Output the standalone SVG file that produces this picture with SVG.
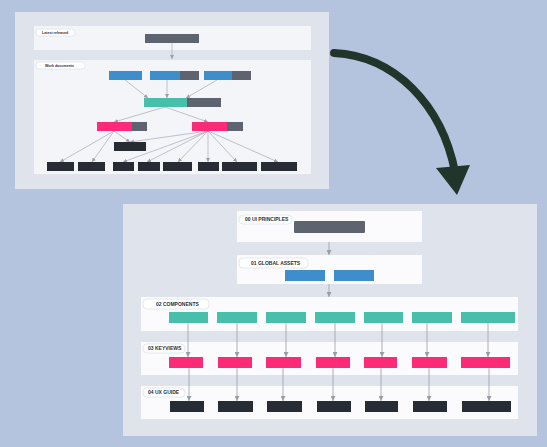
<svg xmlns="http://www.w3.org/2000/svg" width="547" height="447" viewBox="0 0 547 447">
<defs>
<style>
.panel{fill:#dfe3eb}
.sec1{fill:#f4f5f8}
.sec2{fill:#fbfbfd}
.pill{fill:#ffffff;stroke:#dcdfe6;stroke-width:0.7}
.lbl{font-family:"Liberation Sans",Arial,sans-serif;font-weight:bold;fill:#2a2f36}
.s{font-size:3.6px}
.m{font-size:5px}
.gray{fill:#5e6370}
.blue{fill:#3d8ecb}
.teal{fill:#47bfaa}
.pink{fill:#fd2a78}
.dark{fill:#272c34}
.ln{stroke:#9a9ea8;stroke-width:0.6;fill:none;marker-end:url(#ah)}
.ln2{stroke:#9a9ea8;stroke-width:0.8;fill:none;marker-end:url(#ah2)}
</style>
<marker id="ah" viewBox="0 0 6 6" refX="6" refY="3" markerWidth="4" markerHeight="4" orient="auto" markerUnits="userSpaceOnUse"><path d="M0,0 L6,3 L0,6 z" fill="#9a9ea8"/></marker>
<marker id="ah2" viewBox="0 0 6 6" refX="6" refY="3" markerWidth="5" markerHeight="5" orient="auto" markerUnits="userSpaceOnUse"><path d="M0,0 L6,3 L0,6 z" fill="#9a9ea8"/></marker>
</defs>
<rect width="547" height="447" fill="#b4c4de"/>

<!-- Top panel -->
<rect class="panel" x="15" y="12" width="314" height="177"/>
<g id="sec-latest">
<rect class="sec1" x="34" y="26" width="277" height="24"/>
<rect class="pill" x="36" y="29" width="39" height="7" rx="3"/>
<text class="lbl s" x="42" y="33.8">Latest released</text>
</g>
<g id="sec-work">
<rect class="sec1" x="34" y="60" width="277" height="114"/>
<rect class="pill" x="36" y="62" width="49" height="7" rx="3"/>
<text class="lbl s" x="45" y="66.8">Work documents</text>
</g>

<g id="connectors-top">
<line class="ln" x1="172" y1="43" x2="172" y2="59"/>
<line class="ln" x1="125" y1="80" x2="148" y2="98"/>
<line class="ln" x1="167" y1="80" x2="167" y2="98"/>
<line class="ln" x1="217" y1="80" x2="186" y2="98"/>
<line class="ln" x1="165" y1="107" x2="114" y2="122"/>
<line class="ln" x1="165" y1="107" x2="208" y2="122"/>
<line class="ln" x1="114" y1="131" x2="60" y2="162"/>
<line class="ln" x1="114" y1="131" x2="92" y2="162"/>
<line class="ln" x1="114" y1="131" x2="130" y2="142"/>
<line class="ln" x1="208" y1="131" x2="130" y2="142"/>
<line class="ln" x1="208" y1="131" x2="123" y2="162"/>
<line class="ln" x1="208" y1="131" x2="147" y2="162"/>
<line class="ln" x1="208" y1="131" x2="178" y2="162"/>
<line class="ln" x1="208" y1="131" x2="208" y2="162"/>
<line class="ln" x1="208" y1="131" x2="237" y2="162"/>
<line class="ln" x1="208" y1="131" x2="278" y2="162"/>
</g>

<g id="n-latest"><rect class="gray" x="145" y="34" width="54" height="9"/></g>
<g id="n-b1"><rect class="blue" x="109" y="71" width="33" height="9"/></g>
<g id="n-b2"><rect class="blue" x="150" y="71" width="30" height="9"/><rect class="gray" x="180" y="71" width="19" height="9"/></g>
<g id="n-b3"><rect class="blue" x="204" y="71" width="28" height="9"/><rect class="gray" x="232" y="71" width="19" height="9"/></g>
<g id="n-t1"><rect class="teal" x="144" y="98" width="43" height="9"/><rect class="gray" x="187" y="98" width="34" height="9"/></g>
<g id="n-p1"><rect class="pink" x="97" y="122" width="35" height="9"/><rect class="gray" x="132" y="122" width="15" height="9"/></g>
<g id="n-p2"><rect class="pink" x="192" y="122" width="35" height="9"/><rect class="gray" x="227" y="122" width="16" height="9"/></g>
<g id="n-d0"><rect class="dark" x="114" y="142" width="32" height="9"/></g>
<g id="n-d1"><rect class="dark" x="47" y="162" width="27" height="9"/></g>
<g id="n-d2"><rect class="dark" x="78" y="162" width="27" height="9"/></g>
<g id="n-d3"><rect class="dark" x="113" y="162" width="21" height="9"/></g>
<g id="n-d4"><rect class="dark" x="138" y="162" width="22" height="9"/></g>
<g id="n-d5"><rect class="dark" x="163" y="162" width="29" height="9"/></g>
<g id="n-d6"><rect class="dark" x="198" y="162" width="21" height="9"/></g>
<g id="n-d7"><rect class="dark" x="222" y="162" width="35" height="9"/></g>
<g id="n-d8"><rect class="dark" x="261" y="162" width="36" height="9"/></g>

<!-- Big arrow -->
<g id="big-arrow">
<path d="M334,53 C395,56 442,105 455,172" fill="none" stroke="#21352b" stroke-width="8" stroke-linecap="round"/>
<path d="M436,168 L470,165 L457,195 z" fill="#21352b"/>
</g>

<!-- Bottom panel -->
<rect class="panel" x="123" y="204" width="414" height="232"/>
<g id="sec-00">
<rect class="sec2" x="237" y="211" width="185" height="31"/>
<rect class="pill" x="239" y="215" width="53" height="9" rx="4"/>
<text class="lbl m" x="245" y="221.3">00 UI PRINCIPLES</text>
</g>
<g id="sec-01">
<rect class="sec2" x="237" y="255" width="185" height="29"/>
<rect class="pill" x="239" y="258" width="69" height="10" rx="4"/>
<text class="lbl m" x="251" y="264.8">01 GLOBAL ASSETS</text>
</g>
<g id="sec-02">
<rect class="sec2" x="141" y="297" width="377" height="34"/>
<rect class="pill" x="143" y="299" width="66" height="10" rx="4"/>
<text class="lbl m" x="156" y="305.8">02 COMPONENTS</text>
</g>
<g id="sec-03">
<rect class="sec2" x="141" y="342" width="377" height="33"/>
<rect class="pill" x="143" y="344" width="42" height="9" rx="4"/>
<text class="lbl m" x="148" y="350.3">03 KEYVIEWS</text>
</g>
<g id="sec-04">
<rect class="sec2" x="141" y="386" width="377" height="33"/>
<rect class="pill" x="143" y="388" width="42" height="9" rx="4"/>
<text class="lbl m" x="148" y="394.3">04 UX GUIDE</text>
</g>

<g id="connectors-bottom">
<line class="ln2" x1="329" y1="242" x2="329" y2="255"/>
<line class="ln2" x1="329" y1="284" x2="329" y2="297"/>
<line class="ln2" x1="188" y1="323" x2="188" y2="357"/>
<line class="ln2" x1="237" y1="323" x2="237" y2="357"/>
<line class="ln2" x1="286" y1="323" x2="286" y2="357"/>
<line class="ln2" x1="335" y1="323" x2="335" y2="357"/>
<line class="ln2" x1="382" y1="323" x2="382" y2="357"/>
<line class="ln2" x1="427" y1="323" x2="427" y2="357"/>
<line class="ln2" x1="488" y1="323" x2="488" y2="357"/>
<line class="ln2" x1="189" y1="368" x2="189" y2="401"/>
<line class="ln2" x1="237" y1="368" x2="237" y2="401"/>
<line class="ln2" x1="283" y1="368" x2="283" y2="401"/>
<line class="ln2" x1="333" y1="368" x2="333" y2="401"/>
<line class="ln2" x1="381" y1="368" x2="381" y2="401"/>
<line class="ln2" x1="429" y1="368" x2="429" y2="401"/>
<line class="ln2" x1="489" y1="368" x2="489" y2="401"/>
</g>

<g id="n-ui"><rect class="gray" x="294" y="221" width="71" height="12" rx="1"/></g>
<g id="n-ga1"><rect class="blue" x="285" y="270" width="40" height="11"/></g>
<g id="n-ga2"><rect class="blue" x="334" y="270" width="40" height="11"/></g>

<g id="n-c1"><rect class="teal" x="169" y="312" width="39" height="11"/></g>
<g id="n-c2"><rect class="teal" x="217" y="312" width="40" height="11"/></g>
<g id="n-c3"><rect class="teal" x="266" y="312" width="40" height="11"/></g>
<g id="n-c4"><rect class="teal" x="315" y="312" width="40" height="11"/></g>
<g id="n-c5"><rect class="teal" x="364" y="312" width="39" height="11"/></g>
<g id="n-c6"><rect class="teal" x="412" y="312" width="40" height="11"/></g>
<g id="n-c7"><rect class="teal" x="461" y="312" width="54" height="11"/></g>

<g id="n-k1"><rect class="pink" x="169" y="357" width="34" height="11"/></g>
<g id="n-k2"><rect class="pink" x="218" y="357" width="34" height="11"/></g>
<g id="n-k3"><rect class="pink" x="266" y="357" width="35" height="11"/></g>
<g id="n-k4"><rect class="pink" x="316" y="357" width="34" height="11"/></g>
<g id="n-k5"><rect class="pink" x="364" y="357" width="33" height="11"/></g>
<g id="n-k6"><rect class="pink" x="412" y="357" width="35" height="11"/></g>
<g id="n-k7"><rect class="pink" x="461" y="357" width="49" height="11"/></g>

<g id="n-u1"><rect class="dark" x="170" y="401" width="34" height="11"/></g>
<g id="n-u2"><rect class="dark" x="218" y="401" width="35" height="11"/></g>
<g id="n-u3"><rect class="dark" x="267" y="401" width="35" height="11"/></g>
<g id="n-u4"><rect class="dark" x="317" y="401" width="34" height="11"/></g>
<g id="n-u5"><rect class="dark" x="365" y="401" width="33" height="11"/></g>
<g id="n-u6"><rect class="dark" x="413" y="401" width="34" height="11"/></g>
<g id="n-u7"><rect class="dark" x="462" y="401" width="49" height="11"/></g>
</svg>
